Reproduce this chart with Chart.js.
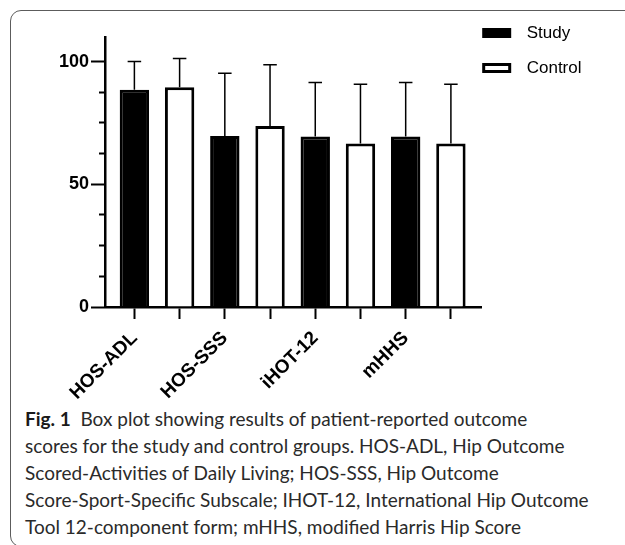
<!DOCTYPE html>
<html><head><meta charset="utf-8">
<script src="https://cdn.jsdelivr.net/npm/chart.js@4/dist/chart.umd.min.js"></script>
<style>
html,body{margin:0;padding:0;background:#fff;width:625px;height:545px;overflow:hidden;}
#frame{position:absolute;left:10px;top:10px;width:680px;height:537px;border:1.5px solid #5c5c5c;border-radius:11px;box-sizing:border-box;}
#c{position:absolute;left:0;top:0;}
#cap{position:absolute;left:25px;top:405px;font-family:Lato,"Open Sans",sans-serif;font-size:19px;line-height:27px;color:#2a2a2a;white-space:nowrap;}
#cap b{font-weight:700;color:#1a1a1a;}
</style></head>
<body>
<div id="frame"></div>
<canvas id="c" width="625" height="402"></canvas>
<div id="cap"><b>Fig. 1</b>&nbsp; Box plot showing results of patient-reported outcome<br>scores for the study and control groups. HOS-ADL, Hip Outcome<br>Scored-Activities of Daily Living; HOS-SSS, Hip Outcome<br>Score-Sport-Specific Subscale; IHOT-12, International Hip Outcome<br>Tool 12-component form; mHHS, modified Harris Hip Score</div>
<script>
// ---- data ----
const categories = ['HOS-ADL', 'HOS-SSS', 'iHOT-12', 'mHHS'];
const seriesNames = ['Study', 'Control'];
const studyMean = [88.5, 69.7, 69.5, 69.5];
const studyUpper = [100.0, 95.2, 91.5, 91.5];
const controlMean = [89.5, 73.7, 66.6, 66.6];
const controlUpper = [101.2, 98.7, 90.7, 90.7];
const yTicks = [0, 12.5, 25, 37.5, 50, 62.5, 75, 87.5, 100];
const yLabels = [0, 50, 100];

// each bar gets its own slot on the x axis: study at 2i, control at 2i+1
const slots = [];
categories.forEach((c, i) => { slots.push(2 * i, 2 * i + 1); });

const errorBars = {
  id: 'errorBars',
  afterDatasetsDraw(chart) {
    const ctx = chart.ctx, ys = chart.scales.y;
    chart.data.datasets.forEach((ds, di) => {
      const meta = chart.getDatasetMeta(di);
      meta.data.forEach((bar, i) => {
        const up = ds.upper[i];
        if (up == null) return;
        const yt = ys.getPixelForValue(up);
        const hw = bar.width * 0.23;
        ctx.save();
        ctx.strokeStyle = '#000';
        ctx.lineWidth = 1.5;
        ctx.beginPath();
        ctx.moveTo(bar.x, bar.y);
        ctx.lineTo(bar.x, yt);
        ctx.moveTo(bar.x - hw, yt);
        ctx.lineTo(bar.x + hw, yt);
        ctx.stroke();
        ctx.restore();
      });
    });
  }
};

const legendPlace = {
  id: 'legendPlace',
  afterLayout(chart) {
    const lg = chart.legend;
    if (!lg) return;
    const dx = (chart.chartArea.right + 2.5 - 18) - lg.left;
    lg.left += dx; lg.right += dx;
    const dy = 6.5 - lg.top;
    lg.top += dy; lg.bottom += dy;
  }
};

new Chart(document.getElementById('c'), {
  type: 'bar',
  data: {
    datasets: [
      {
        label: seriesNames[0],
        data: studyMean.map((v, i) => ({ x: 2 * i, y: v })),
        upper: studyUpper,
        backgroundColor: '#000',
        borderColor: '#000',
        borderWidth: 3,
        grouped: false,
        categoryPercentage: 1,
        barPercentage: 0.65
      },
      {
        label: seriesNames[1],
        data: controlMean.map((v, i) => ({ x: 2 * i + 1, y: v })),
        upper: controlUpper,
        backgroundColor: '#fff',
        borderColor: '#000',
        borderWidth: 3,
        grouped: false,
        categoryPercentage: 1,
        barPercentage: 0.65
      }
    ]
  },
  options: {
    responsive: false,
    animation: false,
    devicePixelRatio: 1,
    layout: { padding: { top: 37, right: 18, bottom: 0, left: 0 } },
    plugins: {
      tooltip: { enabled: false },
      legend: {
        position: 'right',
        align: 'start',
        labels: {
          boxWidth: 26,
          boxHeight: 7,
          padding: 18,
          color: '#000',
          font: { family: 'Arial, "Liberation Sans"', size: 17 },
          generateLabels: chart => {
            const items = Chart.defaults.plugins.legend.labels.generateLabels(chart);
            items.forEach(it => { it.text = '\u2002' + it.text; });
            return items;
          }
        }
      }
    },
    scales: {
      x: {
        type: 'linear',
        offset: false,
        min: -0.65,
        max: 7.67,
        afterBuildTicks: s => { s.ticks = slots.map(v => ({ value: v })); },
        afterFit: s => { s.height = 95; },
        ticks: {
          autoSkip: false,
          minRotation: 45,
          maxRotation: 45,
          padding: 8,
          color: '#000',
          font: { family: 'Arial, "Liberation Sans"', size: 19, weight: 'bold' },
          callback: v => (v % 2 === 0 ? categories[v / 2] : '')
        },
        grid: { offset: false, drawOnChartArea: false, drawTicks: true, tickLength: 12, tickWidth: 2, tickColor: '#000' },
        border: { display: true, color: '#000', width: 2.5 }
      },
      y: {
        min: 0,
        max: 110,
        afterBuildTicks: s => { s.ticks = yTicks.map(v => ({ value: v })); },
        afterFit: s => { s.width = 105; },
        ticks: {
          padding: 2,
          color: '#000',
          font: { family: 'Arial, "Liberation Sans"', size: 18, weight: 'bold' },
          callback: v => (yLabels.includes(v) ? String(v) : '')
        },
        grid: {
          drawOnChartArea: false,
          tickLength: 14,
          tickWidth: 2,
          tickColor: '#000',
          tickBorderDash: ctx => (ctx.tick && yLabels.includes(ctx.tick.value) ? [] : [0, 8, 20, 0])
        },
        border: { display: true, color: '#000', width: 2.5 }
      }
    }
  },
  plugins: [errorBars, legendPlace]
});
</script>
</body></html>
